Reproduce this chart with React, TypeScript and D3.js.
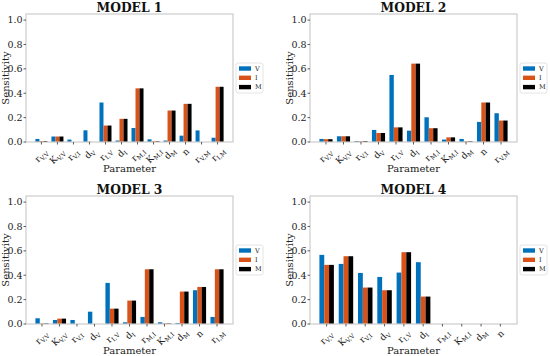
import React from "react";
import * as d3 from "d3";

// series
const seriesNames = ["V", "I", "M"];
const seriesColors = ["#0072BD", "#D95319", "#000000"];

// parameter labels, "base_sub"
const model1Params = ["r_V,V", "K_V,V", "r_V,I", "d_V", "r_I,V", "d_I", "r_M,I", "K_M,I", "d_M", "n", "r_V,M", "r_I,M"];
const model2Params = ["r_V,V", "K_V,V", "r_V,I", "d_V", "r_I,V", "d_I", "r_M,I", "K_M,I", "d_M", "n", "r_V,M"];
const model3Params = ["r_V,V", "K_V,V", "r_V,I", "d_V", "r_I,V", "d_I", "r_M,I", "K_M,I", "d_M", "n", "r_I,M"];
const model4Params = ["r_V,V", "K_V,V", "r_V,I", "d_V", "r_I,V", "d_I", "r_M,I", "K_M,I", "d_M", "n"];

// sensitivities
const model1V = [0.025, 0.045, 0.02, 0.096, 0.324, 0.012, 0.115, 0.022, 0.012, 0.052, 0.095, 0.035];
const model1I = [0.008, 0.045, 0.0, 0.003, 0.135, 0.19, 0.44, 0.007, 0.258, 0.313, 0.0, 0.453];
const model1M = [0.008, 0.045, 0.0, 0.0, 0.135, 0.19, 0.44, 0.007, 0.258, 0.313, 0.0, 0.453];

const model2V = [0.025, 0.047, 0.008, 0.099, 0.55, 0.093, 0.203, 0.02, 0.025, 0.165, 0.236];
const model2I = [0.023, 0.047, 0.006, 0.074, 0.12, 0.643, 0.113, 0.038, 0.006, 0.324, 0.176];
const model2M = [0.023, 0.047, 0.008, 0.074, 0.12, 0.643, 0.113, 0.038, 0.006, 0.324, 0.176];

const model3V = [0.047, 0.033, 0.033, 0.101, 0.337, 0.014, 0.058, 0.014, 0.008, 0.277, 0.058];
const model3I = [0.005, 0.044, 0.0, 0.0, 0.126, 0.192, 0.449, 0.005, 0.266, 0.304, 0.449];
const model3M = [0.005, 0.044, 0.0, 0.0, 0.126, 0.192, 0.449, 0.005, 0.266, 0.304, 0.449];

const model4V = [0.567, 0.493, 0.419, 0.386, 0.422, 0.507, 0, 0, 0, 0];
const model4I = [0.485, 0.556, 0.299, 0.277, 0.589, 0.225, 0, 0, 0, 0];
const model4M = [0.485, 0.556, 0.299, 0.277, 0.589, 0.225, 0, 0, 0, 0];

const yTicks = [0, 0.2, 0.4, 0.6, 0.8, 1.0];

interface Panel {
    title: string;
    params: string[];
    series: number[][];
    left: number;
    top: number;
}

const panels: Panel[] = [
    { title: "MODEL 1", params: model1Params, series: [model1V, model1I, model1M], left: 26, top: 14 },
    { title: "MODEL 2", params: model2Params, series: [model2V, model2I, model2M], left: 310, top: 14 },
    { title: "MODEL 3", params: model3Params, series: [model3V, model3I, model3M], left: 26, top: 196 },
    { title: "MODEL 4", params: model4Params, series: [model4V, model4I, model4M], left: 310, top: 196 },
];

const axW = 207;
const axH = 128;
const barW = 0.25;
const FONT = "DejaVu Serif";
const spineColor = "#cccccc";
const baseSize = 9;
const subSize = 6.2;

// rough DejaVu Serif advance widths (em)
const charW: Record<string, number> = { r: 0.48, K: 0.77, d: 0.64, n: 0.64, V: 0.72, I: 0.37, M: 0.87, ",": 0.32 };
const textW = (s: string, size: number) => s.split("").reduce((a, c) => a + (charW[c] ?? 0.6) * size, 0);

const TickLabel: React.FC<{ label: string; cx: number; top: number }> = ({ label, cx, top }) => {
    const [base, sub] = label.split("_");
    const wb = textW(base, baseSize);
    const ws = sub ? textW(sub, subSize) : 0;
    const L = wb + ws;
    const half = (L + 8) / (2 * Math.SQRT2);
    return (
        <g transform={`translate(${cx},${top + half}) rotate(-45)`} fill="#222">
            <text x={-L / 2} y={3} fontSize={baseSize}>{base}</text>
            {sub && <text x={-L / 2 + wb} y={5.2} fontSize={subSize}>{sub}</text>}
        </g>
    );
};

const PanelChart: React.FC<{ p: Panel }> = ({ p }) => {
    const n = p.params.length;
    const lo = -1.5 * barW;
    const hi = n - 1 + 1.5 * barW;
    const pad = 0.05 * (hi - lo);
    const right = p.left + axW;
    const bottom = p.top + axH;
    const midX = (p.left + right) / 2;
    const midY = (p.top + bottom) / 2;

    const x = d3.scaleLinear().domain([lo - pad, hi + pad]).range([p.left, right]);
    const y = d3.scaleLinear().domain([0, 1.05]).range([bottom, p.top]);
    const fmt = d3.format(".1f");

    return (
        <g fontFamily={FONT}>
            {p.series.map((vals, s) => (
                <g key={s} fill={seriesColors[s]}>
                    {vals.map((v, i) => (
                        <rect
                            key={i}
                            x={x(i + (s - 1) * barW - barW / 2)}
                            width={x(barW) - x(0)}
                            y={y(v)}
                            height={y(0) - y(v)}
                        />
                    ))}
                </g>
            ))}
            <rect x={p.left} y={p.top} width={axW} height={axH} fill="none" stroke={spineColor} strokeWidth={1.2} />

            {yTicks.map((t) => (
                <g key={t}>
                    <line x1={p.left - 2.5} x2={p.left} y1={y(t)} y2={y(t)} stroke="#333" strokeWidth={0.8} />
                    <text x={p.left - 3.5} y={y(t)} dy="0.35em" textAnchor="end" fontSize={9.5} fill="#222">
                        {fmt(t)}
                    </text>
                </g>
            ))}

            {p.params.map((lab, i) => (
                <g key={i}>
                    <line x1={x(i)} x2={x(i)} y1={bottom} y2={bottom + 2.5} stroke="#333" strokeWidth={0.8} />
                    <TickLabel label={lab} cx={x(i)} top={bottom + 5} />
                </g>
            ))}

            <text x={midX} y={p.top - 2.3} textAnchor="middle" fontSize={12.3} fontWeight="bold" fill="#111">
                {p.title}
            </text>
            <text x={midX} y={bottom + 29.5} textAnchor="middle" fontSize={10} fill="#222">
                Parameter
            </text>
            <text
                transform={`translate(${p.left - 17.5},${midY}) rotate(-90)`}
                textAnchor="middle"
                fontSize={10}
                fill="#222"
            >
                Sensitivity
            </text>

            <g transform={`translate(${right + 3},${midY - 15})`}>
                <rect width={27} height={30} rx={2} fill="#fff" stroke="#dddddd" strokeWidth={0.8} />
                {seriesNames.map((name, s) => {
                    const ry = 5.5 + s * 9.3;
                    return (
                        <g key={name}>
                            <rect x={3} y={ry - 2.2} width={12} height={4.4} fill={seriesColors[s]} />
                            <text x={19} y={ry} dy="0.35em" fontSize={6.5} fill="#222">
                                {name}
                            </text>
                        </g>
                    );
                })}
            </g>
        </g>
    );
};

const App: React.FC = () => (
    <svg width={550} height={356} style={{ position: "absolute", left: 0, top: 0, background: "#fff" }}>
        {panels.map((p) => (
            <PanelChart key={p.title} p={p} />
        ))}
    </svg>
);

export default App;
